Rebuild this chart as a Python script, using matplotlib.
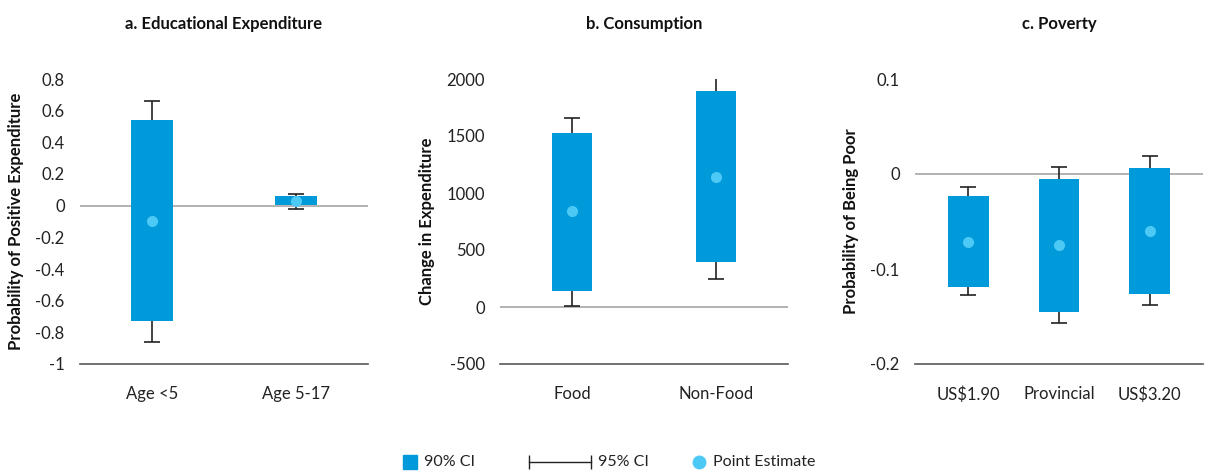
import matplotlib
matplotlib.use("Agg")
import matplotlib.pyplot as plt
import numpy as np

plt.rcParams['font.family'] = ['Lato', 'DejaVu Sans']

# a. educational expenditure
edu_cats = ["Age <5", "Age 5-17"]
edu_lo95 = [-0.86, -0.019]
edu_lo90 = [-0.73, 0.002]
edu_est = [-0.10, 0.032]
edu_hi90 = [0.54, 0.062]
edu_hi95 = [0.66, 0.076]

# b. consumption
con_cats = ["Food", "Non-Food"]
con_lo95 = [10, 246]
con_lo90 = [142, 392]
con_est = [840, 1142]
con_hi90 = [1525, 1893]
con_hi95 = [1656, 2041]

# c. poverty
pov_cats = ["US$1.90", "Provincial", "US$3.20"]
pov_lo95 = [-0.1274, -0.157, -0.1375]
pov_lo90 = [-0.1186, -0.145, -0.126]
pov_est = [-0.0712, -0.0747, -0.0596]
pov_hi90 = [-0.0232, -0.0053, 0.0063]
pov_hi95 = [-0.0137, 0.0074, 0.0193]

BAR = "#009ADA"
DOT = "#4DC9F5"
WHISK = "#222222"
TXT = "#222222"

W, H = 1206, 471
fig = plt.figure(figsize=(W / 100, H / 100), dpi=100)


def fmt(t):
    t = round(float(t), 6) + 0.0
    return f"{t:g}"


def panel(left, cats, lo95, lo90, est, hi90, hi95, width, xlim, ylim, ticks,
          ylabel, title):
    ax = fig.add_axes([left / W, (H - 364) / H, 288 / W, 285 / H])
    x = np.arange(len(cats))
    lo90 = np.array(lo90)
    hi90 = np.array(hi90)
    ax.axhline(0, color="#A6A6A6", lw=1.2, zorder=1)
    ax.bar(x, hi90 - lo90, bottom=lo90, width=width, color=BAR, zorder=2)
    # 95% whiskers outside the 90% box
    ax.vlines(x, hi90, hi95, color=WHISK, lw=1.2, zorder=3)
    ax.vlines(x, lo95, lo90, color=WHISK, lw=1.2, zorder=3)
    ax.plot(x, hi95, ls="none", marker="_", ms=12, mew=1.2, color=WHISK, zorder=3)
    ax.plot(x, lo95, ls="none", marker="_", ms=12, mew=1.2, color=WHISK, zorder=3)
    ax.plot(x, est, ls="none", marker="o", ms=8, color=DOT, mec="none", zorder=4)
    ax.set_xlim(*xlim)
    ax.set_ylim(*ylim)
    ax.set_yticks(ticks)
    ax.set_yticklabels([fmt(t) for t in ticks])
    ax.set_xticks(x)
    ax.set_xticklabels(cats)
    for s in ("top", "right", "left"):
        ax.spines[s].set_visible(False)
    ax.spines["bottom"].set_color("#595959")
    ax.spines["bottom"].set_linewidth(1.2)
    ax.tick_params(length=0, labelsize=12, colors=TXT)
    ax.tick_params(axis="y", pad=11)
    ax.tick_params(axis="x", pad=16)
    ax.set_ylabel(ylabel, fontsize=12, fontweight="bold", labelpad=8, color="#111111")
    fig.text((left + 144) / W, (H - 24) / H, title, ha="center", va="center",
             fontsize=12, fontweight="bold", color="#111111")
    return ax


panel(80, edu_cats, edu_lo95, edu_lo90, edu_est, edu_hi90, edu_hi95, 0.29,
      (-0.5, 1.5), (-1, 0.8), np.arange(-1, 0.81, 0.2),
      "Probability of Positive Expenditure", "a. Educational Expenditure")
panel(500, con_cats, con_lo95, con_lo90, con_est, con_hi90, con_hi95, 0.28,
      (-0.5, 1.5), (-500, 2000), np.arange(-500, 2001, 500),
      "Change in Expenditure", "b. Consumption")
panel(915, pov_cats, pov_lo95, pov_lo90, pov_est, pov_hi90, pov_hi95, 0.45,
      (-0.59, 2.59), (-0.2, 0.1), [-0.2, -0.1, 0, 0.1],
      "Probability of Being Poor", "c. Poverty")

# legend along the bottom
lax = fig.add_axes([0, 0, 1, 40 / H])
lax.set_xlim(0, W)
lax.set_ylim(0, 40)
lax.axis("off")
ly = 9
lax.plot([410], [ly], marker="s", ms=10, color=BAR, ls="none")
lax.text(424, ly, "90% CI", va="center", fontsize=11.5, color=TXT)
lax.plot([529, 591], [ly, ly], color=WHISK, lw=1)
lax.plot([529, 591], [ly, ly], ls="none", marker="|", ms=10, mew=1, color=WHISK)
lax.text(598, ly, "95% CI", va="center", fontsize=11.5, color=TXT)
lax.plot([699], [ly], marker="o", ms=10, color=DOT, mec="none", ls="none")
lax.text(713, ly, "Point Estimate", va="center", fontsize=11.5, color=TXT)

fig.savefig("out.png", dpi=100)
